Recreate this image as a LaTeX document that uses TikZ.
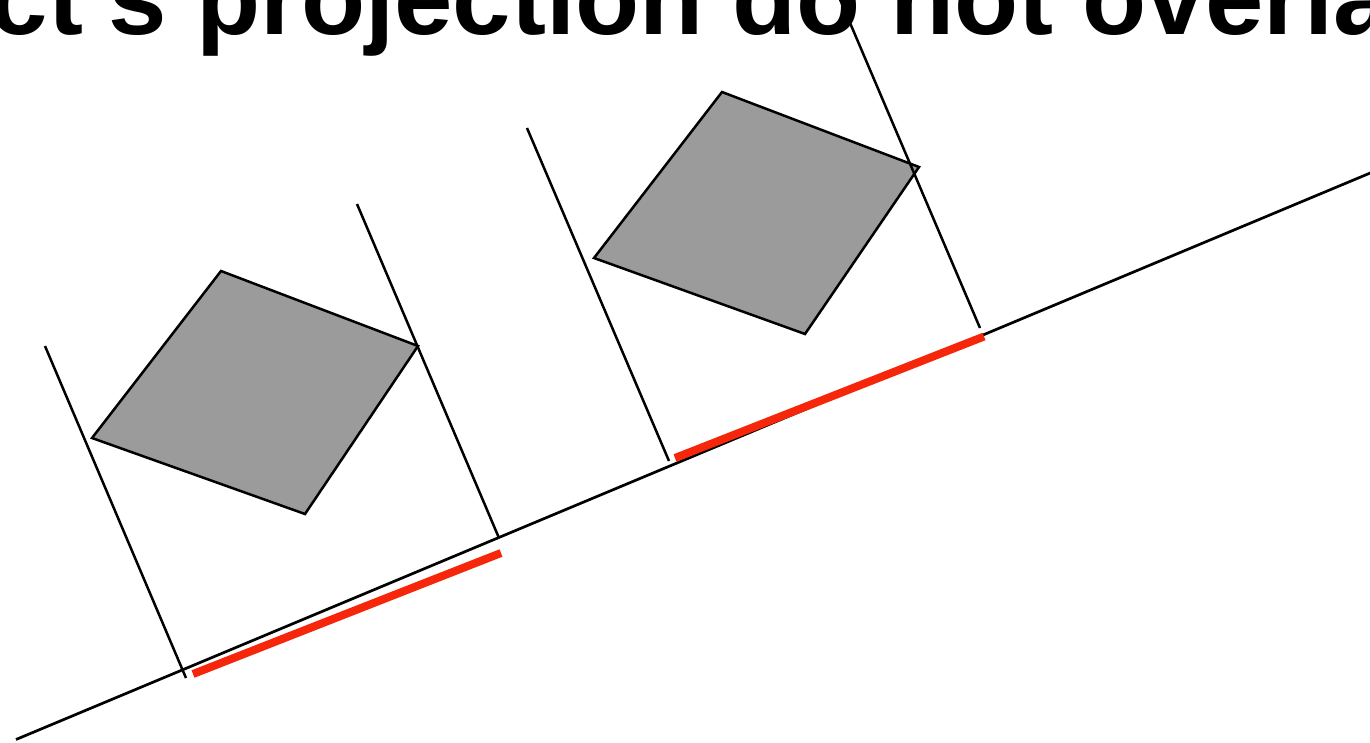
\documentclass[tikz,border=0pt]{standalone}
\usepackage{fontspec}
\setmainfont{Liberation Sans}
\definecolor{shapegray}{RGB}{155,155,155}
\definecolor{projred}{RGB}{245,38,10}
\begin{document}
\begin{tikzpicture}[x=1pt,y=-1pt,
  titletext/.style={font=\fontsize{105}{110}\selectfont\bfseries, inner sep=0pt, outer sep=0pt},
  quadbox/.style={draw=black, line width=2.5pt, fill=shapegray, line join=miter},
  perpline/.style={draw=black, line width=2.5pt},
  axisline/.style={draw=black, line width=2.7pt},
  projseg/.style={draw=projred, line width=8pt}]
\useasboundingbox (0,0) rectangle (1370,742);
\clip (0,0) rectangle (1370,742);
% title
\node[titletext, anchor=base east] (t1) at (167,34) {Object's};
\node[titletext, anchor=base west] (t2) at (196,34) {projection do not overlap};
% axis
\coordinate (ax1) at (16,739.5);
\coordinate (ax2) at (1375,171);
\draw[axisline] (ax1) -- (ax2);
% left shape
\coordinate (a1) at (221,271);
\coordinate (a2) at (418,346);
\coordinate (a3) at (305,514);
\coordinate (a4) at (92,438);
\draw[quadbox] (a1) -- (a2) -- (a3) -- (a4) -- cycle;
% right shape
\coordinate (b1) at (722,92);
\coordinate (b2) at (919,167);
\coordinate (b3) at (805,334);
\coordinate (b4) at (594,258);
\draw[quadbox] (b1) -- (b2) -- (b3) -- (b4) -- cycle;
% projection lines
\coordinate (p1t) at (45,346);
\coordinate (p1b) at (186,678);
\coordinate (p2t) at (357,204);
\coordinate (p2b) at (499,538);
\coordinate (p3t) at (527,128);
\coordinate (p3b) at (669,461);
\coordinate (p4t) at (836,-10);
\coordinate (p4b) at (980,328);
\draw[perpline] (p1t) -- (p1b);
\draw[perpline] (p2t) -- (p2b);
\draw[perpline] (p3t) -- (p3b);
\draw[perpline] (p4t) -- (p4b);
% projections
\coordinate (r1a) at (193,674);
\coordinate (r1b) at (501,553);
\coordinate (r2a) at (675,458);
\coordinate (r2b) at (984,336.5);
\draw[projseg] (r1a) -- (r1b);
\draw[projseg] (r2a) -- (r2b);
\end{tikzpicture}
\end{document}
